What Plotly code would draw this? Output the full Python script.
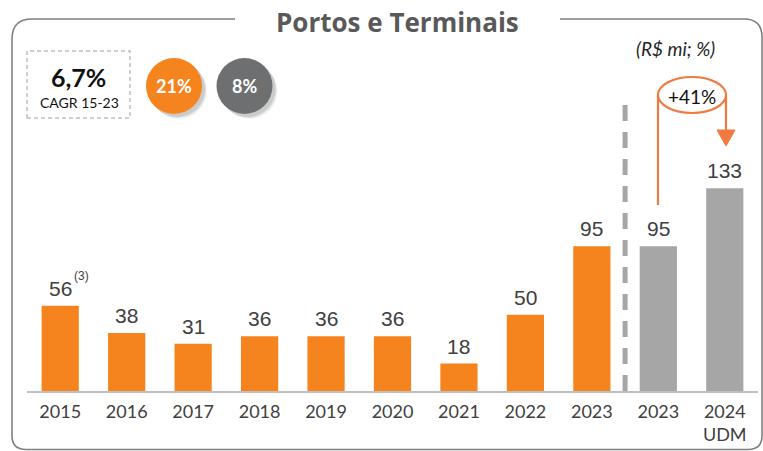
import plotly.graph_objects as go

# ---- data ----
categories = ["2015", "2016", "2017", "2018", "2019", "2020", "2021", "2022", "2023", "2023", "2024<br>UDM"]
values = [56, 38, 31, 36, 36, 36, 18, 50, 95, 95, 133]
bar_colors = ["#F5841F"] * 9 + ["#A6A6A6"] * 2
cagr_text = "6,7%"
cagr_label = "CAGR 15-23"
circle_texts = ["21%", "8%"]
growth_text = "+41%"
unit_text = "(R$ mi; %)"
title_text = "Portos e Terminais"

W, H = 763, 451
L, R, T, B = 27, 5, 60, 60
PW, PH = W - L - R, H - T - B
PX_PER_UNIT = 1.524
YMAX = PH / PX_PER_UNIT


def px(x):
    return (x - L) / PW


def py(y):
    return (H - B - y) / PH


x_idx = list(range(len(categories)))

fig = go.Figure()
fig.add_trace(go.Bar(
    x=x_idx, y=values, marker=dict(color=bar_colors, line=dict(width=0)),
    width=0.56, hoverinfo="skip",
))

ORANGE = "#F5841F"
LINE_OR = "#F07A3F"
CAL = "Lato, 'Open Sans', sans-serif"
OPEN = "'Open Sans', Lato, sans-serif"
NARROW = "'Liberation Sans Narrow', 'Arial Narrow', 'Liberation Sans', Arial, sans-serif"

annotations = []
for i, v in enumerate(values):
    annotations.append(dict(
        x=i, y=v, xref="x", yref="y", text=str(v), showarrow=False,
        xanchor="center", yanchor="bottom", yshift=4,
        font=dict(family=NARROW, size=21, color="#404040"),
    ))
annotations.append(dict(
    x=0, y=values[0], xref="x", yref="y", text="(3)", showarrow=False,
    xanchor="left", yanchor="bottom", xshift=12, yshift=21,
    font=dict(family=NARROW, size=12, color="#404040"),
))


def txt(x, y, text, size, color="#111111", family=CAL):
    return dict(x=px(x), y=py(y), xref="paper", yref="paper", text=text,
                xanchor="center", yanchor="middle", showarrow=False,
                font=dict(family=family, size=size, color=color))


annotations += [
    txt(397.5, 22, f"<b>{title_text}</b>", 26, "#595959", OPEN),
    txt(78.5, 77, f"<b>{cagr_text}</b>", 25),
    txt(79, 102, cagr_label, 14),
    txt(174, 86, f"<b>{circle_texts[0]}</b>", 18, "white"),
    txt(244.5, 86, f"<b>{circle_texts[1]}</b>", 18, "white"),
    txt(675, 48, f"<i>{unit_text}</i>", 19, "#262626"),
    txt(692, 96, growth_text, 19),
]

shapes = []
# frame with title gap
fx0, fx1, fy0, fy1 = 12, 762, 19, 449.5
frame_path = (
    f"M {px(235)},{py(fy0)} L {px(fx0+20)},{py(fy0)} Q {px(fx0)},{py(fy0)} {px(fx0)},{py(fy0+20)} "
    f"L {px(fx0)},{py(fy1-14)} Q {px(fx0)},{py(fy1)} {px(fx0+14)},{py(fy1)} "
    f"L {px(fx1-14)},{py(fy1)} Q {px(fx1)},{py(fy1)} {px(fx1)},{py(fy1-14)} "
    f"L {px(fx1)},{py(fy0+18)} Q {px(fx1)},{py(fy0)} {px(fx1-18)},{py(fy0)} L {px(560)},{py(fy0)}"
)
shapes.append(dict(type="path", xref="paper", yref="paper", path=frame_path,
                   line=dict(color="#808080", width=1.6)))
# dashed CAGR box
shapes.append(dict(type="rect", xref="paper", yref="paper",
                   x0=px(27), x1=px(130), y0=py(118), y1=py(51),
                   line=dict(color="#BFBFBF", width=1.5, dash="4px,3px")))
# circles with shadows
for cx, col in [(174, ORANGE), (244.5, "#6D6F71")]:
    for off, op in [(5, 0.05), (4, 0.07), (3, 0.09)]:
        shapes.append(dict(type="circle", xref="paper", yref="paper",
                           x0=px(cx - 28 + off), x1=px(cx + 28 + off),
                           y0=py(86 + 28 + off), y1=py(86 - 28 + off),
                           fillcolor=f"rgba(0,0,0,{op})", line=dict(width=0)))
    shapes.append(dict(type="circle", xref="paper", yref="paper",
                       x0=px(cx - 28), x1=px(cx + 28), y0=py(86 + 28), y1=py(86 - 28),
                       fillcolor=col, line=dict(width=0)))
# dashed separator
shapes.append(dict(type="line", xref="x", yref="paper", x0=8.5, x1=8.5,
                   y0=0, y1=py(95), line=dict(color="#A6A6A6", width=5, dash="16px,11px")))
# growth arrow
shapes.append(dict(type="line", xref="paper", yref="paper", x0=px(658), x1=px(658),
                   y0=py(95), y1=py(205), line=dict(color=LINE_OR, width=2.2)))
shapes.append(dict(type="line", xref="paper", yref="paper", x0=px(726), x1=px(726),
                   y0=py(95), y1=py(132), line=dict(color=LINE_OR, width=2.2)))
shapes.append(dict(type="path", xref="paper", yref="paper",
                   path=f"M {px(717)},{py(130)} L {px(735)},{py(130)} L {px(726)},{py(146)} Z",
                   fillcolor=LINE_OR, line=dict(color=LINE_OR, width=1)))
shapes.append(dict(type="circle", xref="paper", yref="paper",
                   x0=px(658), x1=px(726), y0=py(113), y1=py(77),
                   fillcolor="white", line=dict(color=LINE_OR, width=2.2)))

fig.update_layout(
    width=W, height=H, margin=dict(l=L, r=R, t=T, b=B),
    paper_bgcolor="white", plot_bgcolor="white", showlegend=False,
    xaxis=dict(range=[-0.5, 10.5], tickmode="array", tickvals=x_idx, ticktext=categories,
               showgrid=False, zeroline=False, showline=True, linecolor="#BFBFBF", linewidth=2,
               ticks="", ticklabelstandoff=3,
               tickfont=dict(family=CAL, size=18, color="#404040"), fixedrange=True),
    yaxis=dict(range=[0, YMAX], visible=False, fixedrange=True),
    annotations=annotations, shapes=shapes,
)

fig.write_html("out.html", config={"displayModeBar": False},
               post_script="document.body.style.margin='0';document.body.style.overflow='hidden';")
